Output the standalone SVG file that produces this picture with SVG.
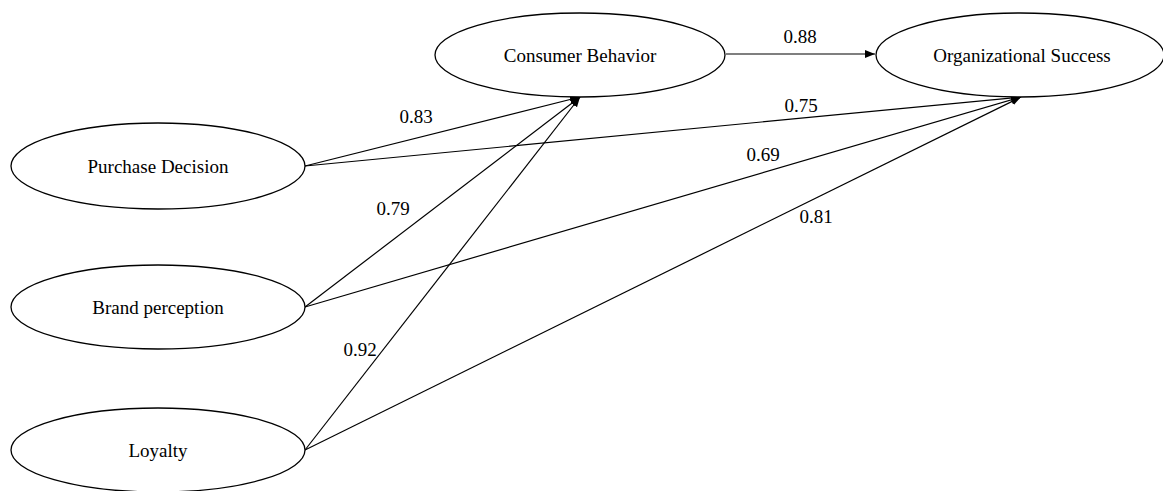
<svg xmlns="http://www.w3.org/2000/svg" width="1163" height="491" viewBox="0 0 1163 491">
<defs>
<style>
.node ellipse{fill:#fff;stroke:#000;stroke-width:1.3}
.node text{font-size:19px;fill:#000;text-anchor:middle}
.edge line{stroke:#000;stroke-width:1.2;fill:none}
.lbl{font-size:19px;fill:#000;text-anchor:middle}
</style>
<marker id="arr" viewBox="0 0 10 10" refX="10" refY="5" markerWidth="10" markerHeight="10" markerUnits="userSpaceOnUse" orient="auto">
<path d="M0,1 L10,5 L0,9 Z" fill="#000"/>
</marker>
</defs>
<rect width="1163" height="491" fill="#fff"/>
<g id="connectors" class="edge">
<line x1="726" y1="54" x2="875" y2="54" marker-end="url(#arr)"/>
<line x1="305" y1="166" x2="580" y2="97" marker-end="url(#arr)"/>
<line x1="305" y1="166" x2="1021" y2="97" marker-end="url(#arr)"/>
<line x1="305" y1="307" x2="580" y2="97" marker-end="url(#arr)"/>
<line x1="305" y1="307" x2="1021" y2="97" marker-end="url(#arr)"/>
<line x1="305" y1="450" x2="580" y2="97" marker-end="url(#arr)"/>
<line x1="305" y1="450" x2="1021" y2="97" marker-end="url(#arr)"/>
</g>
<g id="labels" font-family="Liberation Serif, DejaVu Serif, serif">
<text class="lbl" x="800" y="43">0.88</text>
<text class="lbl" x="801" y="112">0.75</text>
<text class="lbl" x="416" y="123">0.83</text>
<text class="lbl" x="763" y="161">0.69</text>
<text class="lbl" x="393" y="215">0.79</text>
<text class="lbl" x="816" y="223">0.81</text>
<text class="lbl" x="360" y="356">0.92</text>
</g>
<g id="consumer-behavior" class="node" font-family="Liberation Serif, DejaVu Serif, serif">
<ellipse cx="580" cy="55" rx="145" ry="42"/>
<text x="580" y="62">Consumer Behavior</text>
</g>
<g id="organizational-success" class="node" font-family="Liberation Serif, DejaVu Serif, serif">
<ellipse cx="1020" cy="55" rx="144" ry="42"/>
<text x="1022" y="62">Organizational Success</text>
</g>
<g id="purchase-decision" class="node" font-family="Liberation Serif, DejaVu Serif, serif">
<ellipse cx="158" cy="166" rx="147" ry="43"/>
<text x="158" y="173">Purchase Decision</text>
</g>
<g id="brand-perception" class="node" font-family="Liberation Serif, DejaVu Serif, serif">
<ellipse cx="158" cy="307" rx="147" ry="42"/>
<text x="158" y="314">Brand perception</text>
</g>
<g id="loyalty" class="node" font-family="Liberation Serif, DejaVu Serif, serif">
<ellipse cx="158" cy="450" rx="147" ry="42"/>
<text x="158" y="457">Loyalty</text>
</g>
</svg>
